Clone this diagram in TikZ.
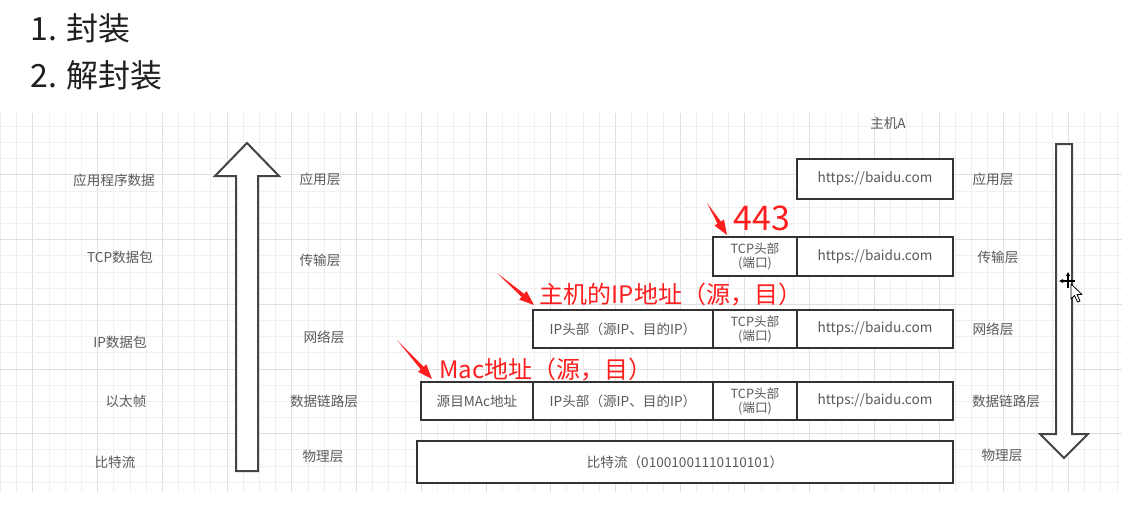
\documentclass[tikz,border=0pt]{standalone}
\usepackage{fontspec}
\setmainfont{Noto Sans CJK SC}
\usetikzlibrary{calc}
\definecolor{gtext}{HTML}{595959}
\definecolor{boxc}{HTML}{333333}
\definecolor{arrc}{HTML}{444444}
\definecolor{redc}{HTML}{FF1E1E}
\definecolor{gminor}{HTML}{F0F0F0}
\definecolor{gmajor}{HTML}{E0E0E0}
\newcommand{\redarr}[2]{%
  \path ($(#2)!11pt!(#1)$) coordinate (rb);
  \fill[redc] (#1) -- ($(rb)!1.5pt!90:(#2)$) -- ($(rb)!4.2pt!90:(#2)$) -- (#2)
     -- ($(rb)!4.2pt!-90:(#2)$) -- ($(rb)!1.5pt!-90:(#2)$) -- cycle;
}
\begin{document}
\begin{tikzpicture}[x=0.75pt,y=-0.75pt,
  lbl/.style={text=gtext, font=\fontsize{10.2}{12}\selectfont, inner sep=0pt},
  pkt/.style={draw=boxc, line width=1.5pt, fill=white, text=gtext,
     font=\fontsize{10.2}{12}\selectfont, inner sep=0pt, align=center},
  tcp/.style={pkt, font=\fontsize{9.5}{10.5}\selectfont, minimum width=63pt},
  url/.style={pkt, minimum width=117pt},
  iph/.style={pkt, minimum width=135pt},
  bigarrow/.style={draw=arrc, line width=1.5pt, fill=white, line join=miter},
  redt/.style={text=redc, inner sep=0pt},
  ttl/.style={text=black!88, font=\fontsize{24}{26}\selectfont, inner sep=0pt, anchor=west}]
\useasboundingbox (0,0) rectangle (1142,510);
\fill[white] (0,0) rectangle (1142,510);
% grid
\foreach \i in {0,...,69} {
  \pgfmathtruncatemacro{\m}{mod(\i,4)}
  \ifnum\m=2 \def\gc{gmajor}\else\def\gc{gminor}\fi
  \draw[\gc, line width=0.75pt] ({0.6+16.18*\i},113) -- ({0.6+16.18*\i},492);
}
\foreach \j in {1,...,23} {
  \pgfmathtruncatemacro{\m}{mod(\j,4)}
  \ifnum\m=0 \def\gc{gmajor}\else\def\gc{gminor}\fi
  \draw[\gc, line width=0.75pt] (0,{110.2+16.18*\j}) -- (1122,{110.2+16.18*\j});
}
% titles
\node[ttl] (t1) at (30,28) {1. 封装};
\node[ttl] (t2) at (30,75) {2. 解封装};
% big arrows
\draw[bigarrow] (236,471) -- (236,176) -- (215,176) -- (247,143) -- (279,176) -- (258,176) -- (258,471) -- cycle;
\draw[bigarrow] (1056,144) -- (1072,144) -- (1072,434) -- (1088,434) -- (1064,458) -- (1040,434) -- (1056,434) -- cycle;
% left labels
\node[lbl] (l1) at (114,180) {应用程序数据};
\node[lbl] (l2) at (120,257) {TCP数据包};
\node[lbl] (l3) at (120,342) {IP数据包};
\node[lbl] (l4) at (126,401) {以太帧};
\node[lbl] (l5) at (115,462) {比特流};
% middle labels
\node[lbl] (m1) at (320,179) {应用层};
\node[lbl] (m2) at (320,260) {传输层};
\node[lbl] (m3) at (324,337) {网络层};
\node[lbl] (m4) at (324,401) {数据链路层};
\node[lbl] (m5) at (323,456) {物理层};
% right labels
\node[lbl] (r1) at (993,179) {应用层};
\node[lbl] (r2) at (998,257) {传输层};
\node[lbl] (r3) at (993,329) {网络层};
\node[lbl] (r4) at (1006,401) {数据链路层};
\node[lbl] (r5) at (1002,455) {物理层};
\node[lbl] (host) at (888,123) {主机A};
% packets
\node[url, minimum height=30pt] (a1) at (875,179) {https://baidu.com};
\node[tcp, minimum height=29.25pt] (t2b) at (755,256.5) {TCP头部\\(端口)};
\node[url, minimum height=29.25pt] (h2) at (875,256.5) {https://baidu.com};
\node[iph, minimum height=28.5pt] (i3) at (623,329) {IP头部（源IP、目的IP）};
\node[tcp, minimum height=28.5pt] (t3) at (755,329) {TCP头部\\(端口)};
\node[url, minimum height=28.5pt] (h3) at (875,329) {https://baidu.com};
\node[pkt, minimum width=84pt, minimum height=28.5pt] (m4b) at (477,401) {源目MAc地址};
\node[iph, minimum height=28.5pt] (i4) at (623,401) {IP头部（源IP、目的IP）};
\node[tcp, minimum height=28.5pt] (t4) at (755,401) {TCP头部\\(端口)};
\node[url, minimum height=28.5pt] (h4) at (875,401) {https://baidu.com};
\node[pkt, minimum width=402pt, minimum height=31.5pt] (b5) at (685,462) {比特流（01001001110110101）};
% red annotations
\node[redt, font=\fontsize{25.5}{28}\selectfont] (n443) at (762,218) {443};
\node[redt, font=\fontsize{18}{20}\selectfont] (nip) at (671,295) {主机的IP地址（源，目）};
\node[redt, font=\fontsize{18}{20}\selectfont] (nmac) at (546,370) {Mac地址（源，目）};
\coordinate (ra1) at (707,203); \coordinate (rp1) at (727,235);
\coordinate (ra2) at (497,273); \coordinate (rp2) at (534,305);
\coordinate (ra3) at (397,340); \coordinate (rp3) at (432,379);
\redarr{ra1}{rp1}
\redarr{ra2}{rp2}
\redarr{ra3}{rp3}
% mouse cursor
\draw[black, line width=0.8pt] (1061,281) -- (1075,281) (1068,274) -- (1068,288);
\fill[black] (1059,281) -- (1063,279) -- (1063,283) -- cycle;
\fill[black] (1068,272) -- (1066,276) -- (1070,276) -- cycle;
\draw[black, fill=white, line width=0.6pt, line join=round] (1071,284) -- (1071,299) -- (1074.5,295.5) -- (1077.5,302) -- (1080,301) -- (1077,294.5) -- (1082,294.5) -- cycle;
\end{tikzpicture}
\end{document}
